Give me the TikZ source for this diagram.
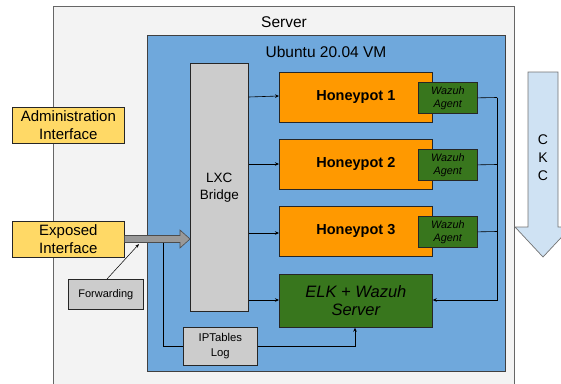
\documentclass[tikz,border=0pt]{standalone}
\usepackage{fontspec}
\setmainfont{Liberation Sans}
\usetikzlibrary{arrows.meta,calc}
\definecolor{srvfill}{HTML}{F3F3F3}
\definecolor{vmfill}{HTML}{6FA8DC}
\definecolor{hpfill}{HTML}{FF9900}
\definecolor{grfill}{HTML}{38761D}
\definecolor{yelfill}{HTML}{FFD966}
\definecolor{gryfill}{HTML}{CCCCCC}
\definecolor{ckcfill}{HTML}{CFE2F3}
\definecolor{arrgray}{HTML}{999999}
\tikzset{
  box/.style={draw=black!85, line width=0.7pt, anchor=north west, inner sep=0pt, align=center},
  hp/.style={box, fill=hpfill, minimum width=153pt, minimum height=50pt, font=\fontsize{14.5}{17}\selectfont\bfseries},
  agent/.style={box, fill=grfill, minimum width=59pt, minimum height=31pt, font=\fontsize{10.8}{13}\selectfont\itshape},
  iface/.style={box, fill=yelfill, minimum width=112pt, minimum height=36pt, font=\fontsize{15}{18}\selectfont},
  graybox/.style={box, fill=gryfill},
  conn/.style={line width=0.6pt, -{Stealth[length=4pt,width=3.5pt]}},
  plain/.style={line width=0.6pt},
}
\begin{document}
\begin{tikzpicture}[x=1pt,y=-1pt]
\useasboundingbox (0,0) rectangle (561,383);
\clip (0,0) rectangle (561,383);
% server
\node[box, draw=black!60, fill=srvfill, minimum width=461pt, minimum height=400pt] (server) at (53,6) {};
\node[font=\fontsize{15.5}{18}\selectfont] (srvlbl) at (284,22) {Server};
% VM
\node[box, draw=black!75, fill=vmfill, minimum width=358pt, minimum height=336pt] (vm) at (147,35) {};
\node[font=\fontsize{15.5}{18}\selectfont] (vmlbl) at (326,52) {Ubuntu 20.04 VM};
% LXC bridge
\node[graybox, minimum width=58pt, minimum height=248pt, font=\fontsize{13.5}{17}\selectfont] (lxc) at (190,63) {LXC\\Bridge};
% honeypots
\node[hp] (hp1) at (279,72) {Honeypot 1};
\node[hp] (hp2) at (279,139) {Honeypot 2};
\node[hp] (hp3) at (279,206) {Honeypot 3};
\node[box, fill=grfill, minimum width=153pt, minimum height=53pt, font=\fontsize{16.5}{18}\selectfont\itshape] (elk) at (279,274) {ELK + Wazuh\\Server};
% agents
\node[agent] (ag1) at (418,82) {Wazuh\\Agent};
\node[agent] (ag2) at (418,149) {Wazuh\\Agent};
\node[agent] (ag3) at (418,216) {Wazuh\\Agent};
% interfaces
\node[iface] (admin) at (12,107) {Administration\\Interface};
\node[iface] (exposed) at (12,221) {Exposed\\Interface};
% forwarding, iptables
\node[graybox, minimum width=75pt, minimum height=30pt, font=\fontsize{11}{13}\selectfont] (fwd) at (68,279) {Forwarding};
\node[graybox, minimum width=74pt, minimum height=38pt, font=\fontsize{11.3}{15}\selectfont] (ipt) at (183,327) {IPTables\\Log};
% big arrow exposed -> lxc
\fill[arrgray] (exposed.east |- 0,235.5) -- (180,235.5) -- (180,230) -- (lxc.west |- 0,239) -- (180,248) -- (180,242.5) -- (exposed.east |- 0,242.5) -- cycle;
\draw[black!70, line width=0.6pt] (exposed.east |- 0,235.5) -- (180,235.5) -- (180,230) -- (lxc.west |- 0,239) -- (180,248) -- (180,242.5) -- (exposed.east |- 0,242.5);
% forwarding arrow
\coordinate (fwdtip) at (139,244);
\draw[line width=0.5pt, -{Stealth[length=4pt,width=3pt]}] (107,279) -- (fwdtip);
% lxc to honeypots
\draw[conn] (lxc.east |- 0,97) -- (hp1.west |- 0,96);
\draw[conn] (lxc.east |- 0,164) -- (hp2.west |- 0,164);
\draw[conn] (lxc.east |- 0,233) -- (hp3.west |- 0,233);
\draw[conn] (lxc.east |- 0,300) -- (elk.west |- 0,300);
% agents to elk
\coordinate (bus) at (497,300);
\draw[plain] (ag1.east) -- (497,97.5);
\draw[plain] (ag2.east) -- (497,164.5);
\draw[plain] (ag3.east) -- (497,231.5);
\draw[conn] (497,97.5) -- (bus) -- (elk.east |- bus);
% iptables
\coordinate (tap) at (163,242.5);
\draw[plain] (tap) -- (163,346) -- (ipt.west |- 0,346);
\draw[conn] (ipt.east |- 0,346) -- (355,346) -- (elk.south -| 355,0);
% CKC arrow
\draw[fill=ckcfill, draw=black!55, line width=0.7pt] (528,72) -- (558,72) -- (558,227) -- (571,227) -- (543,257) -- (515,227) -- (528,227) -- cycle;
\node[font=\fontsize{14}{18}\selectfont, align=center] (ckc) at (543,158) {C\\K\\C};
\end{tikzpicture}
\end{document}
